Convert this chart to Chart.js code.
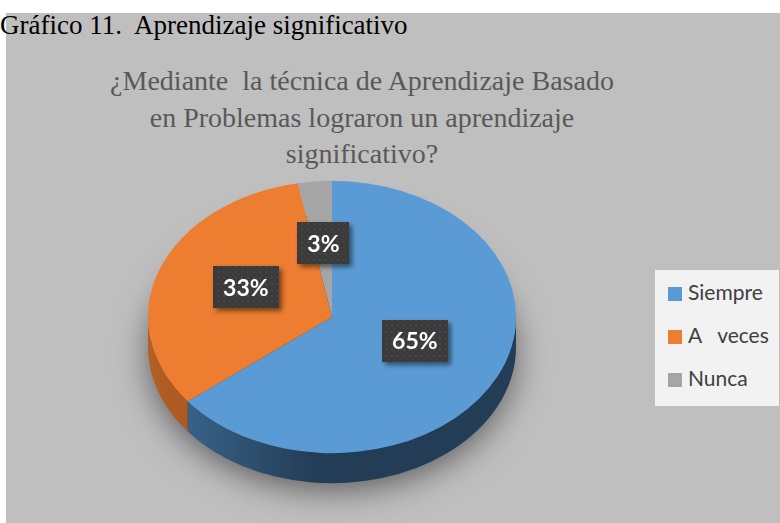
<!DOCTYPE html>
<html>
<head>
<meta charset="utf-8">
<script src="https://cdn.jsdelivr.net/npm/chart.js@4.4.1/dist/chart.umd.min.js"></script>
<style>
  body { margin: 0; width: 780px; height: 523px; overflow: hidden; position: relative; background: #fff; }
  #panel { position: absolute; left: 6px; top: 13px; right: 0; bottom: 0; background: #bfbfbf; }
  #caption { position: absolute; left: 0; top: 10px; font: 27px "Liberation Serif"; color: #000; white-space: pre; }
  #title { position: absolute; left: 0; width: 724px; top: 63px; text-align: center;
           font: 28px/36.5px "Liberation Serif"; color: #595959; }
  #chart { position: absolute; left: 0; top: 0; }
  #legend { position: absolute; left: 655px; top: 270px; width: 124px; height: 136px; background: #f2f2f2;
            font: 21px "Lato"; color: #404040; }
  #legend div { position: absolute; left: 13px; white-space: pre; line-height: 24px; }
  #legend span { display: inline-block; width: 14px; height: 14px; margin-right: 6px; vertical-align: -1px; }
</style>
</head>
<body>
<div id="panel"></div>
<div id="caption">Gráfico 11.  Aprendizaje significativo</div>
<div id="title">¿Mediante&nbsp; la técnica de Aprendizaje Basado<br>en Problemas lograron un aprendizaje<br>significativo?</div>
<canvas id="chart" width="780" height="523"></canvas>
<div id="legend"></div>
<script>
// ---------------- DATA ----------------
const categories = ["Siempre", "A   veces", "Nunca"];
const percentages = [65, 33, 3];
const sliceColors = ["#5b9bd5", "#ed7d31", "#a5a5a5"];
const sideLight = ["#3f6d98", "#b35f25", "#7c7c7c"];
const sideDark = ["#233d56", "#8f4a1a", "#5e5e5e"];

// fake 3D: squash the pie into an ellipse and add a side wall
const squash = 0.74;
const depth = 30;
const labelLift = 6;

// dotted dark fill for the data labels
function labelPattern(ctx) {
  const c = document.createElement("canvas");
  c.width = 6; c.height = 6;
  const p = c.getContext("2d");
  p.fillStyle = "#3b3b3b"; p.fillRect(0, 0, 6, 6);
  p.fillStyle = "#474747"; p.fillRect(1, 1, 2, 2); p.fillRect(4, 4, 1, 1);
  return ctx.createPattern(c, "repeat");
}

const pie3d = {
  id: "pie3d",
  beforeDatasetsDraw(chart) {
    const ctx = chart.ctx;
    const arcs = chart.getDatasetMeta(0).data;
    const { x, y, outerRadius: r } = arcs[0];

    // soft shadow under the pie
    ctx.save();
    ctx.shadowColor = "rgba(0,0,0,0.55)";
    ctx.shadowBlur = 34;
    ctx.shadowOffsetY = 8;
    ctx.beginPath();
    ctx.ellipse(x, y + depth, r - 2, r * squash - 2, 0, 0, 2 * Math.PI);
    ctx.fillStyle = "#333";
    ctx.fill();
    ctx.restore();

    // side walls, only the front half is visible
    arcs.forEach((arc, i) => {
      for (const shift of [-2 * Math.PI, 0, 2 * Math.PI]) {
        const a1 = Math.max(arc.startAngle - shift, 0);
        const a2 = Math.min(arc.endAngle - shift, Math.PI);
        if (a2 <= a1) continue;
        ctx.beginPath();
        ctx.ellipse(x, y, r, r * squash, 0, a1, a2);
        ctx.ellipse(x, y + depth, r, r * squash, 0, a2, a1, true);
        ctx.closePath();
        const g = ctx.createLinearGradient(x - r, 0, x + r, 0);
        g.addColorStop(0, sideLight[i]);
        g.addColorStop(0.45, sideDark[i]);
        g.addColorStop(1, sideDark[i]);
        ctx.fillStyle = g;
        ctx.fill();
      }
    });

    ctx.save();
    ctx.translate(0, y);
    ctx.scale(1, squash);
    ctx.translate(0, -y);
  },
  afterDatasetsDraw(chart) {
    const ctx = chart.ctx;
    ctx.restore();

    const arcs = chart.getDatasetMeta(0).data;
    const values = chart.data.datasets[0].data;
    const fill = labelPattern(ctx);
    ctx.font = "bold 23px Lato";
    ctx.textAlign = "center";
    ctx.textBaseline = "middle";
    arcs.forEach((arc, i) => {
      const mid = (arc.startAngle + arc.endAngle) / 2;
      const f = 0.5;
      const lx = arc.x + Math.cos(mid) * arc.outerRadius * f;
      const ly = arc.y + Math.sin(mid) * arc.outerRadius * f * squash - labelLift;
      const text = values[i] + "%";
      const w = ctx.measureText(text).width + 20;
      const h = 42;
      ctx.save();
      ctx.shadowColor = "rgba(0,0,0,0.5)";
      ctx.shadowBlur = 5;
      ctx.shadowOffsetX = 3;
      ctx.shadowOffsetY = 3;
      ctx.fillStyle = fill;
      ctx.fillRect(Math.round(lx - w / 2), Math.round(ly - h / 2), Math.round(w), h);
      ctx.restore();
      ctx.fillStyle = "#ffffff";
      ctx.fillText(text, lx, ly + 1);
    });
  }
};

new Chart(document.getElementById("chart"), {
  type: "pie",
  data: {
    labels: categories,
    datasets: [{
      data: percentages,
      backgroundColor: sliceColors,
      borderWidth: 0
    }]
  },
  options: {
    responsive: false,
    animation: false,
    events: [],
    layout: { padding: { left: 148, right: 264, top: 133, bottom: 22 } },
    plugins: {
      legend: { display: false },
      tooltip: { enabled: false }
    }
  },
  plugins: [pie3d]
});

// legend boxes from the same arrays
const legend = document.getElementById("legend");
categories.forEach((name, i) => {
  const row = document.createElement("div");
  row.style.top = (10 + i * 43) + "px";
  row.innerHTML = '<span style="background:' + sliceColors[i] + '"></span>' + name;
  legend.appendChild(row);
});
</script>
</body>
</html>
